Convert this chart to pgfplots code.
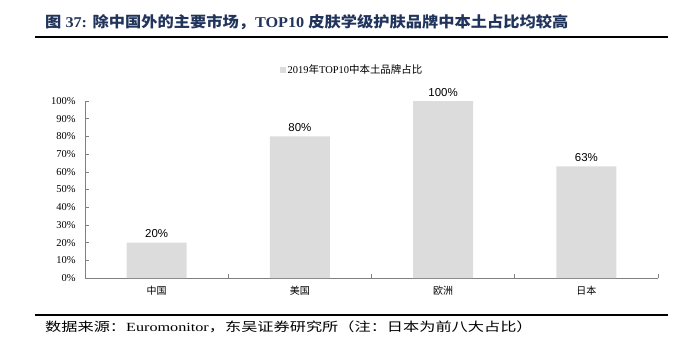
\documentclass[border=0pt]{standalone}
\usepackage{pgfplots}
\pgfplotsset{compat=1.18}
\usepackage{fontspec}
\setmainfont{Liberation Serif}
\newfontfamily\cjk{Noto Sans CJK SC}
\newfontfamily\sans{Liberation Sans}
\definecolor{barcolor}{RGB}{220,220,220}
\definecolor{axisgray}{RGB}{128,128,128}
\definecolor{titleblue}{RGB}{33,52,92}
\begin{document}
\begin{tikzpicture}
\path[use as bounding box] (0bp,0bp) rectangle (685bp,-353bp);
\node[anchor=west, text=titleblue, font=\bfseries\fontsize{15}{18}\selectfont, inner sep=0pt] at (45bp,-22bp)
  {\scalebox{1.087}[1]{{\cjk 图} 37: {\cjk 除中国外的主要市场，}TOP10 {\cjk 皮肤学级护肤品牌中本土占比均较高}}};
\draw[line width=1.5bp] (35bp,-37bp) -- (668bp,-37bp);
\draw[line width=1.5bp] (35bp,-315bp) -- (668bp,-315bp);
\node[anchor=west, font=\fontsize{12.5}{14}\selectfont, inner sep=0pt] at (45bp,-327bp)
  {\scalebox{1.3}[1]{{\cjk 数据来源：}Euromonitor{\cjk ，东吴证券研究所（注：日本为前八大占比）}}};
\begin{axis}[
  at={(85bp,-278bp)}, anchor=south west,
  scale only axis, width=573bp, height=177bp,
  xmin=-0.5, xmax=3.5, ymin=0, ymax=100,
  axis lines=left, axis line style={draw=axisgray, line width=0.8bp, -},
  ybar, bar width=60bp,
  /pgf/number format/assume math mode=true,
  ytick={0,10,...,100},
  yticklabel={\pgfmathprintnumber{\tick}\%},
  yticklabel style={font=\fontsize{10.5}{12}\selectfont, xshift=-6bp},
  ytick style={draw=axisgray, line width=0.6bp},
  tick align=inside, major tick length=4bp,
  xtick={0,1,2,3},
  xticklabels={{\cjk 中国},{\cjk 美国},{\cjk 欧洲},{\cjk 日本}},
  xticklabel style={font=\fontsize{10}{12}\selectfont, yshift=-5bp},
  xtick style={draw=none},
  extra x ticks={0.5,1.5,2.5,3.5},
  extra x tick labels={},
  extra x tick style={xtick style={draw=axisgray, line width=0.6bp}},
  nodes near coords={\pgfmathprintnumber{\pgfplotspointmeta}\%},
  nodes near coords style={font=\sans\fontsize{11.5}{13}\selectfont, anchor=south, yshift=1bp, text=black},
  legend style={at={(0.466,1.175)}, anchor=center, draw=none, fill=none,
    font=\fontsize{10.5}{12}\selectfont, inner sep=0pt},
  legend image code/.code={\fill[barcolor] (0bp,-3bp) rectangle (6bp,3bp);},
  clip=false,
]
\addplot[fill=barcolor, draw=none] coordinates {(0,20) (1,80) (2,100) (3,63)};
\addlegendentry{2019{\cjk 年}TOP10{\cjk 中本土品牌占比}}
\end{axis}
\end{tikzpicture}
\end{document}
